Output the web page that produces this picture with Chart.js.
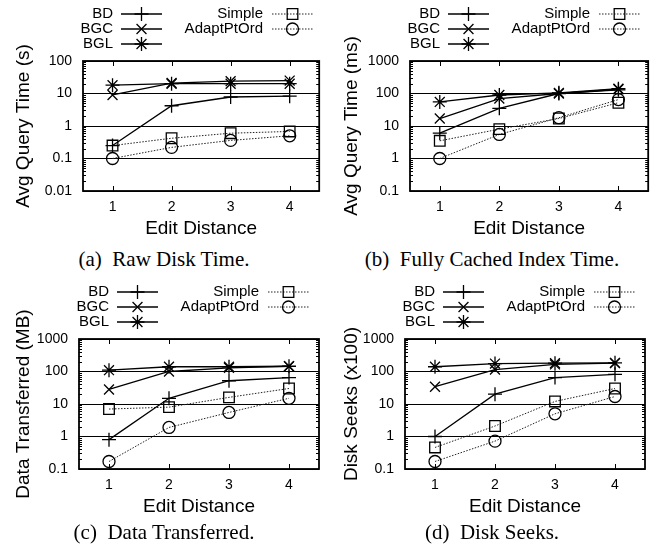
<!DOCTYPE html>
<html>
<head>
<meta charset="utf-8">
<script src="https://cdn.jsdelivr.net/npm/chart.js@4.4.1/dist/chart.umd.min.js"></script>
<style>
  html, body { margin: 0; padding: 0; background: #fff; }
  body { width: 657px; height: 554px; position: relative; overflow: hidden; }
  .panel { position: absolute; }
  .caption { position: absolute; width: 328px; text-align: center;
    font-family: "Liberation Serif", "Times New Roman", serif; font-size: 21px; line-height: 24px; color: #000; white-space: pre; }
</style>
</head>
<body>
<div class="panel" style="left:0px;top:0px;width:328px;height:245px"><canvas id="cA"></canvas></div>
<div class="panel" style="left:328px;top:0px;width:329px;height:245px"><canvas id="cB"></canvas></div>
<div class="panel" style="left:0px;top:278px;width:328px;height:245px"><canvas id="cC"></canvas></div>
<div class="panel" style="left:328px;top:278px;width:329px;height:245px"><canvas id="cD"></canvas></div>
<div class="caption" style="left:0px;top:247px">(a)  Raw Disk Time.</div>
<div class="caption" style="left:328px;top:247px">(b)  Fully Cached Index Time.</div>
<div class="caption" style="left:0px;top:520px">(c)  Data Transferred.</div>
<div class="caption" style="left:328px;top:520px">(d)  Disk Seeks.</div>
<script>
// ---------------- data ----------------
const editDistance = [1, 2, 3, 4];
const seriesNames = ['BD', 'BGC', 'BGL', 'Simple', 'AdaptPtOrd'];

// (a) Raw Disk Time, seconds
const rawBD     = [0.25, 4.2, 7.8, 8.3];
const rawBGC    = [9, 21, 24, 25];
const rawBGL    = [18, 20, 20, 20];
const rawSimple = [0.25, 0.42, 0.6, 0.68];
const rawAdapt  = [0.1, 0.22, 0.36, 0.5];

// (b) Fully Cached Index Time, ms
const cachedBD     = [6, 35, 100, 130];
const cachedBGC    = [17, 70, 100, 135];
const cachedBGL    = [55, 90, 105, 140];
const cachedSimple = [3.5, 8, 17, 52];
const cachedAdapt  = [1, 5.5, 18, 65];

// (c) Data Transferred, MB
const dataBD     = [0.8, 15, 52, 65];
const dataBGC    = [28, 100, 130, 145];
const dataBGL    = [110, 140, 140, 145];
const dataSimple = [7, 8, 16, 30];
const dataAdapt  = [0.17, 1.9, 5.5, 15];

// (d) Disk Seeks, x100
const seeksBD     = [1.0, 20, 65, 82];
const seeksBGC    = [34, 115, 165, 180];
const seeksBGL    = [140, 175, 180, 185];
const seeksSimple = [0.46, 2.1, 12, 30];
const seeksAdapt  = [0.17, 0.72, 5, 17];

// tick labels
const xTicks = [1, 2, 3, 4];
const yTicksA = [0.01, 0.1, 1, 10, 100];
const yTicksB = [0.1, 1, 10, 100, 1000];
const yTicksC = [0.1, 1, 10, 100, 1000];
const yTicksD = [0.1, 1, 10, 100, 1000];

const titleA = 'Avg Query Time (s)';
const titleB = 'Avg Query Time (ms)';
const titleC = 'Data Transferred (MB)';
const titleD = 'Disk Seeks (x100)';
const xTitle = 'Edit Distance';

// ---------------- styling ----------------
const SANS = '"Liberation Sans", Arial, Helvetica, sans-serif';
const styles = [
  { pointStyle: 'cross',    radius: 7,   dash: [],     width: 1.3, color: '#000' },
  { pointStyle: 'crossRot', radius: 7,   dash: [],     width: 1.3, color: '#000' },
  { pointStyle: 'star',     radius: 7,   dash: [],     width: 1.3, color: '#000' },
  { pointStyle: 'rect',     radius: 7.5, dash: [1.5, 1.5], width: 1, color: '#222' },
  { pointStyle: 'circle',   radius: 6,   dash: [1.5, 1.5], width: 1, color: '#222' }
];

function makeDatasets(arrs) {
  return arrs.map((vals, i) => ({
    label: seriesNames[i],
    data: vals.map((v, j) => ({ x: editDistance[j], y: v })),
    borderColor: styles[i].color,
    borderWidth: styles[i].width,
    borderDash: styles[i].dash,
    pointStyle: styles[i].pointStyle,
    pointRadius: styles[i].radius,
    pointHoverRadius: styles[i].radius,
    pointBorderColor: '#000',
    pointBorderWidth: 1.3,
    pointBackgroundColor: 'rgba(0,0,0,0)',
    fill: false,
    tension: 0
  }));
}

const framePlugin = {
  id: 'frame',
  afterDraw(chart) {
    const ctx = chart.ctx;
    const a = chart.chartArea;
    const ys = chart.scales.y, xs = chart.scales.x;
    ctx.save();
    ctx.strokeStyle = '#000';
    // minor ticks on left/right
    ctx.lineWidth = 1;
    const lo = Math.log10(ys.min), hi = Math.log10(ys.max);
    for (let d = Math.round(lo); d < Math.round(hi); d++) {
      for (let m = 2; m <= 9; m++) {
        const py = Math.round(ys.getPixelForValue(m * Math.pow(10, d))) + 0.5;
        ctx.beginPath();
        ctx.moveTo(a.left, py); ctx.lineTo(a.left + 3, py);
        ctx.moveTo(a.right, py); ctx.lineTo(a.right - 3, py);
        ctx.stroke();
      }
    }
    // x ticks inside, top and bottom
    xTicks.forEach(v => {
      const px = Math.round(xs.getPixelForValue(v)) + 0.5;
      ctx.beginPath();
      ctx.moveTo(px, a.bottom); ctx.lineTo(px, a.bottom - 5);
      ctx.moveTo(px, a.top); ctx.lineTo(px, a.top + 5);
      ctx.stroke();
    });
    // border
    ctx.lineWidth = 1.8;
    ctx.strokeRect(a.left, a.top, a.right - a.left, a.bottom - a.top);

    // legend (gnuplot style)
    const H = Chart.helpers;
    ctx.font = '15px ' + SANS;
    ctx.textBaseline = 'middle';
    ctx.textAlign = 'right';
    ctx.fillStyle = '#000';
    const rows = [a.top - 47, a.top - 32, a.top - 17];
    const cols = [
      { textX: a.left + 30, l0: a.left + 38, l1: a.left + 79 },
      { textX: a.left + 180, l0: a.left + 189, l1: a.left + 230 }
    ];
    chart.data.datasets.forEach((ds, i) => {
      const col = i < 3 ? cols[0] : cols[1];
      const y = i < 3 ? rows[i] : rows[i - 3];
      ctx.fillText(ds.label, col.textX, y);
      ctx.save();
      ctx.strokeStyle = ds.borderColor;
      ctx.lineWidth = ds.borderWidth;
      ctx.setLineDash(ds.borderDash);
      ctx.beginPath();
      ctx.moveTo(col.l0, y); ctx.lineTo(col.l1, y);
      ctx.stroke();
      ctx.restore();
      ctx.save();
      ctx.strokeStyle = '#000';
      ctx.fillStyle = 'rgba(0,0,0,0)';
      ctx.lineWidth = 1.3;
      H.drawPoint(ctx, { pointStyle: ds.pointStyle, radius: ds.pointRadius, rotation: 0, borderWidth: 1.3 },
        (col.l0 + col.l1) / 2, y);
      ctx.restore();
    });
    ctx.restore();
  }
};

function makeChart(id, arrs, yTicks, yTitle, plotLeft, rightPad) {
  const canvasH = 245, plotTop = 61, plotBottom = 191;
  return new Chart(document.getElementById(id), {
    type: 'line',
    data: { datasets: makeDatasets(arrs) },
    plugins: [framePlugin],
    options: {
      responsive: true,
      maintainAspectRatio: false,
      animation: false,
      events: [],
      layout: { padding: { left: 0, right: rightPad, top: plotTop, bottom: 0 } },
      plugins: { legend: { display: false }, tooltip: { enabled: false }, title: { display: false } },
      scales: {
        x: {
          type: 'linear',
          min: 0.5, max: 4.5,
          afterBuildTicks: s => { s.ticks = xTicks.map(v => ({ value: v })); },
          afterFit: s => { s.height = canvasH - plotBottom; },
          grid: { display: false, drawTicks: false },
          border: { display: false },
          ticks: { color: '#000', font: { family: SANS, size: 14 }, padding: 8, callback: v => String(v) },
          title: { display: true, text: xTitle, color: '#000', font: { family: SANS, size: 19 }, padding: { top: 0, bottom: 5 } }
        },
        y: {
          type: 'logarithmic',
          min: yTicks[0], max: yTicks[yTicks.length - 1],
          afterBuildTicks: s => { s.ticks = yTicks.map(v => ({ value: v, major: true })); },
          afterFit: s => { s.width = plotLeft; },
          grid: { color: '#000', lineWidth: 1, drawTicks: false },
          border: { display: false },
          ticks: { color: '#000', font: { family: SANS, size: 14 }, padding: 11,
                   callback: (v) => String(+v.toPrecision(6)) },
          title: { display: true, text: yTitle, color: '#000', font: { family: SANS, size: 19 }, padding: { top: 12, bottom: 0 } }
        }
      }
    }
  });
}

makeChart('cA', [rawBD, rawBGC, rawBGL, rawSimple, rawAdapt], yTicksA, titleA, 83, 5);
makeChart('cB', [cachedBD, cachedBGC, cachedBGL, cachedSimple, cachedAdapt], yTicksB, titleB, 82, 7);
makeChart('cC', [dataBD, dataBGC, dataBGL, dataSimple, dataAdapt], yTicksC, titleC, 79, 9);
makeChart('cD', [seeksBD, seeksBGC, seeksBGL, seeksSimple, seeksAdapt], yTicksD, titleD, 77, 12);
</script>
</body>
</html>
